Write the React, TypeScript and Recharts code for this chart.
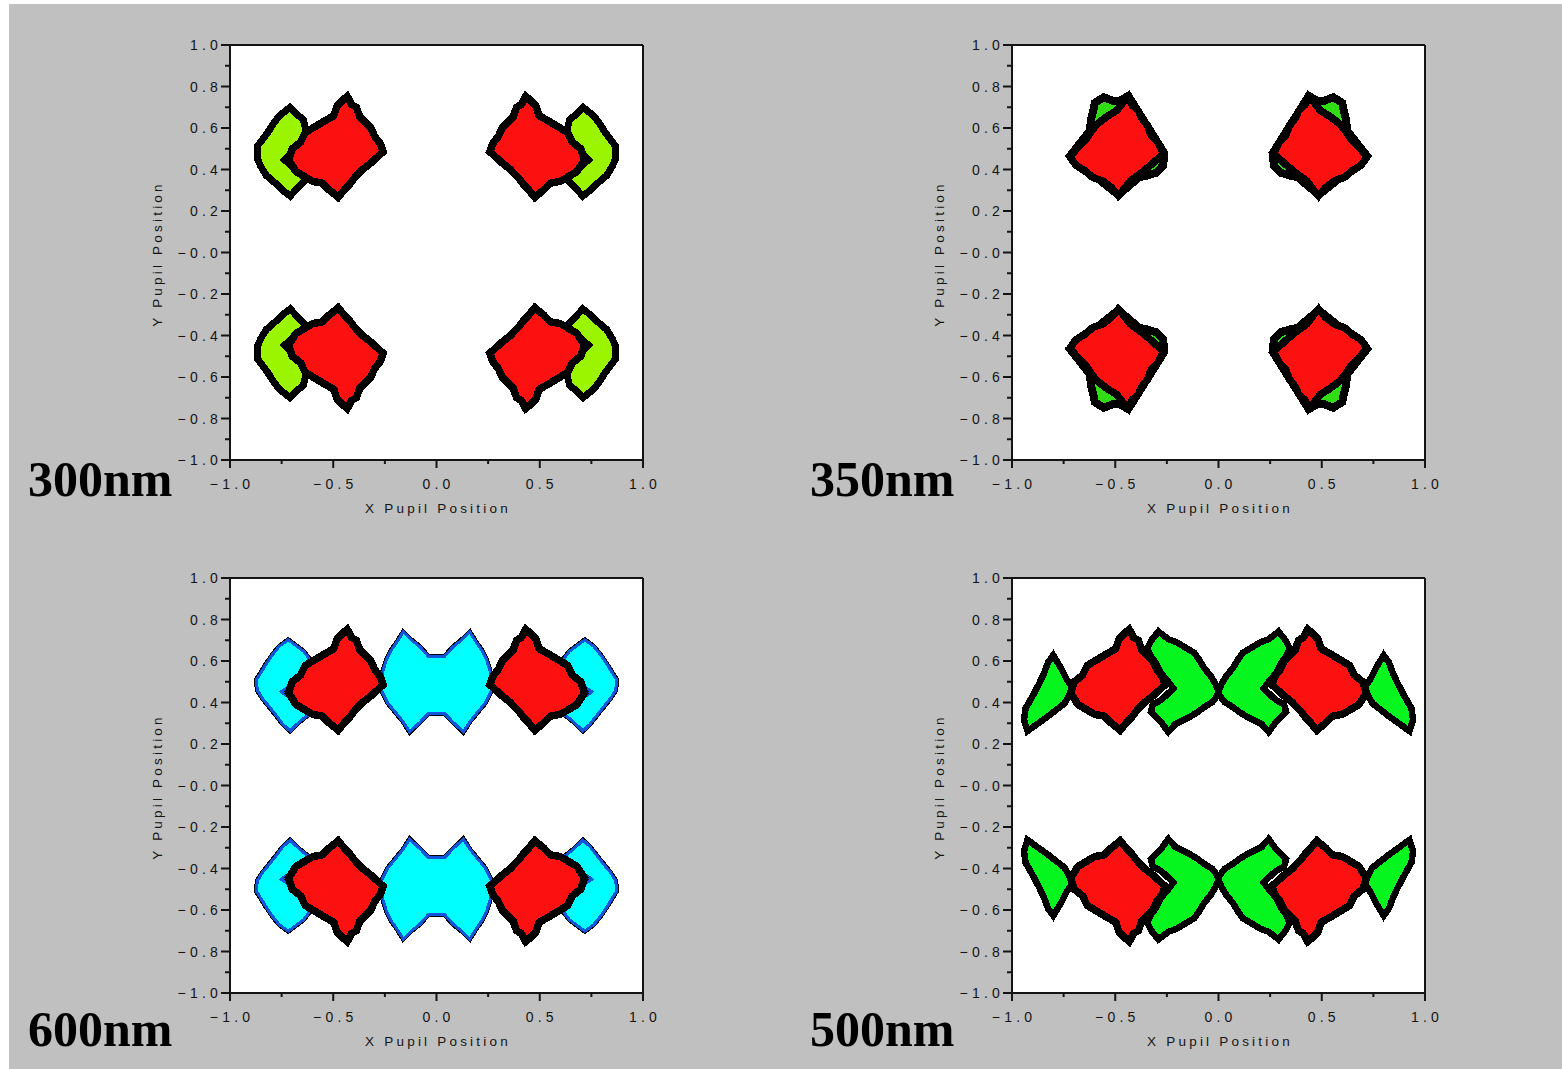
import React from 'react';
import { ScatterChart, Scatter, XAxis, YAxis, CartesianGrid, ReferenceLine } from 'recharts';

type P = [number, number];

// Pupil outlines in pupil coordinates. Quadrant shapes are given for the
// upper-left pole and mirrored to the other three poles.

// Red (design wavelength) pole outline, used by 300/600/500 nm panels
const RED_LOBE: P[] = [
  [-0.432, 0.752], [-0.410, 0.712], [-0.388, 0.700], [-0.372, 0.655], [-0.346, 0.628],
  [-0.318, 0.600], [-0.300, 0.560], [-0.272, 0.525], [-0.258, 0.486], [-0.316, 0.433],
  [-0.356, 0.401], [-0.397, 0.360], [-0.421, 0.328], [-0.445, 0.304], [-0.476, 0.266],
  [-0.520, 0.302], [-0.552, 0.334], [-0.600, 0.343], [-0.641, 0.367], [-0.681, 0.391],
  [-0.717, 0.447], [-0.699, 0.499], [-0.659, 0.531], [-0.635, 0.579], [-0.594, 0.603],
  [-0.538, 0.636], [-0.497, 0.660], [-0.481, 0.708], [-0.457, 0.732],
];

// Red pole outline in the 350 nm panel
const RED_LOBE_350: P[] = [
  [-0.437, 0.750], [-0.420, 0.713], [-0.388, 0.683], [-0.370, 0.645], [-0.344, 0.612],
  [-0.326, 0.565], [-0.293, 0.530], [-0.266, 0.477], [-0.330, 0.420], [-0.378, 0.380],
  [-0.427, 0.345], [-0.451, 0.313], [-0.485, 0.273], [-0.519, 0.313], [-0.560, 0.345],
  [-0.608, 0.361], [-0.648, 0.394], [-0.690, 0.420], [-0.720, 0.462], [-0.675, 0.513],
  [-0.642, 0.546], [-0.610, 0.594], [-0.578, 0.627], [-0.536, 0.658], [-0.495, 0.683],
  [-0.463, 0.722],
];

// 300 nm: crescent on the outer side of each pole
const GREEN_300_CRESCENT: P[] = [
  [-0.709, 0.700], [-0.669, 0.660], [-0.645, 0.642], [-0.635, 0.602], [-0.608, 0.582],
  [-0.650, 0.520], [-0.690, 0.488], [-0.736, 0.446], [-0.685, 0.404], [-0.645, 0.372],
  [-0.625, 0.356], [-0.661, 0.322], [-0.709, 0.272], [-0.752, 0.306], [-0.785, 0.338],
  [-0.825, 0.372], [-0.850, 0.413], [-0.868, 0.454], [-0.868, 0.512], [-0.842, 0.545],
  [-0.818, 0.577], [-0.792, 0.618], [-0.760, 0.660],
];

// 350 nm: rim slightly larger than the red pole
const GREEN_350_RIM: P[] = [
  [-0.437, 0.755], [-0.262, 0.478], [-0.268, 0.420], [-0.300, 0.385], [-0.340, 0.372],
  [-0.385, 0.362], [-0.485, 0.277], [-0.719, 0.465], [-0.671, 0.526], [-0.625, 0.585],
  [-0.615, 0.650], [-0.598, 0.722], [-0.555, 0.748], [-0.505, 0.728], [-0.480, 0.730],
];

// 600 nm: outer crescent per pole
const CYAN_600_CRESCENT: P[] = [
  [-0.718, 0.702], [-0.677, 0.672], [-0.645, 0.648], [-0.618, 0.613], [-0.650, 0.524],
  [-0.752, 0.452], [-0.665, 0.388], [-0.615, 0.345], [-0.665, 0.306], [-0.709, 0.263],
  [-0.745, 0.297], [-0.770, 0.330], [-0.802, 0.370], [-0.843, 0.420], [-0.868, 0.460],
  [-0.872, 0.510], [-0.851, 0.543], [-0.826, 0.584], [-0.793, 0.632], [-0.760, 0.672],
];

// 600 nm: central bow-tie of the upper row
const CYAN_600_BOWTIE: P[] = [
  [-0.276, 0.484], [-0.268, 0.517], [-0.260, 0.549], [-0.243, 0.605], [-0.219, 0.653],
  [-0.195, 0.686], [-0.161, 0.740], [-0.120, 0.700], [-0.080, 0.668], [-0.040, 0.623],
  [0.040, 0.623], [0.080, 0.668], [0.120, 0.700], [0.161, 0.740], [0.195, 0.686],
  [0.219, 0.653], [0.243, 0.605], [0.260, 0.549], [0.268, 0.517], [0.276, 0.484],
  [0.260, 0.444], [0.235, 0.396], [0.203, 0.358], [0.163, 0.309], [0.130, 0.258],
  [0.080, 0.305], [0.040, 0.346], [-0.040, 0.346], [-0.080, 0.305], [-0.130, 0.258],
  [-0.163, 0.309], [-0.203, 0.358], [-0.235, 0.396], [-0.260, 0.444],
];

// 500 nm: outer wing per pole
const GREEN_500_WING: P[] = [
  [-0.800, 0.628], [-0.765, 0.570], [-0.740, 0.520], [-0.706, 0.468], [-0.745, 0.396],
  [-0.830, 0.330], [-0.889, 0.288], [-0.925, 0.262], [-0.942, 0.316], [-0.934, 0.372],
  [-0.902, 0.428], [-0.868, 0.492], [-0.844, 0.543], [-0.826, 0.592],
];

// 500 nm: inner chevron per pole
const GREEN_500_CHEVRON: P[] = [
  [-0.291, 0.742], [-0.243, 0.705], [-0.202, 0.690], [-0.160, 0.665], [-0.118, 0.640],
  [-0.094, 0.607], [-0.070, 0.567], [-0.037, 0.526], [-0.013, 0.486], [0.003, 0.444],
  [-0.030, 0.402], [-0.072, 0.376], [-0.104, 0.352], [-0.144, 0.328], [-0.176, 0.312],
  [-0.209, 0.296], [-0.243, 0.258], [-0.278, 0.306], [-0.302, 0.330], [-0.327, 0.356],
  [-0.318, 0.390], [-0.275, 0.414], [-0.235, 0.452], [-0.219, 0.468], [-0.243, 0.500],
  [-0.278, 0.541], [-0.302, 0.589], [-0.327, 0.621], [-0.344, 0.661], [-0.327, 0.697],
];

const X_TICKS = [-1, -0.75, -0.5, -0.25, 0, 0.25, 0.5, 0.75, 1];
const X_MAJOR = [-1, -0.5, 0, 0.5, 1];
const X_LABELS = ['\u22121.0', '\u22120.5', '0.0', '0.5', '1.0'];
const Y_TICKS = [-1, -0.9, -0.8, -0.7, -0.6, -0.5, -0.4, -0.3, -0.2, -0.1, 0, 0.1, 0.2, 0.3, 0.4, 0.5, 0.6, 0.7, 0.8, 0.9, 1];
const Y_MAJOR = [1, 0.8, 0.6, 0.4, 0.2, 0, -0.2, -0.4, -0.6, -0.8, -1];
const Y_LABELS = ['1.0', '0.8', '0.6', '0.4', '0.2', '\u22120.0', '\u22120.2', '\u22120.4', '\u22120.6', '\u22120.8', '\u22121.0'];

const WAVELENGTHS = ['300nm', '350nm', '600nm', '500nm'];
const X_TITLE = 'X Pupil Position';
const Y_TITLE = 'Y Pupil Position';

type Pt = { x: number; y: number };
type Style = { fill: string; stroke: string; strokeWidth: number; underStroke?: string; underWidth?: number };

const RED: Style = { fill: '#fd1010', stroke: '#000', strokeWidth: 7.5 };
const LIME: Style = { fill: '#9cf500', stroke: '#000', strokeWidth: 7 };
const GREEN: Style = { fill: '#30dc14', stroke: '#000', strokeWidth: 8 };
const CYAN: Style = { fill: '#00ffff', stroke: '#1256dc', strokeWidth: 3, underStroke: '#000', underWidth: 5 };
const GREEN500: Style = { fill: '#05f51e', stroke: '#000', strokeWidth: 6.5 };

const closed = (poly: P[], sx: number, sy: number): Pt[] => {
  const pts = poly.map(([x, y]) => ({ x: x * sx, y: y * sy }));
  return [...pts, pts[0], pts[1]];
};
const fourPoles = (poly: P[]) => [closed(poly, 1, 1), closed(poly, -1, 1), closed(poly, 1, -1), closed(poly, -1, -1)];
const twoRows = (poly: P[]) => [closed(poly, 1, 1), closed(poly, 1, -1)];

type Layer = { polys: Pt[][]; style: Style };

const PANELS: { left: number; top: number; layers: Layer[] }[] = [
  {
    left: 130, top: 30,
    layers: [{ polys: fourPoles(GREEN_300_CRESCENT), style: LIME }, { polys: fourPoles(RED_LOBE), style: RED }],
  },
  {
    left: 912, top: 30,
    layers: [{ polys: fourPoles(GREEN_350_RIM), style: GREEN }, { polys: fourPoles(RED_LOBE_350), style: RED }],
  },
  {
    left: 130, top: 563,
    layers: [
      { polys: fourPoles(CYAN_600_CRESCENT), style: CYAN },
      { polys: twoRows(CYAN_600_BOWTIE), style: CYAN },
      { polys: fourPoles(RED_LOBE), style: RED },
    ],
  },
  {
    left: 912, top: 563,
    layers: [
      { polys: fourPoles(GREEN_500_WING), style: GREEN500 },
      { polys: fourPoles(GREEN_500_CHEVRON), style: GREEN500 },
      { polys: fourPoles(RED_LOBE), style: RED },
    ],
  },
];

const TICK_FONT = "'Liberation Sans', Arial, sans-serif";
const INK = '#141414';

const findMajor = (list: number[], v: number) => list.findIndex((m) => Math.abs(m - v) < 1e-6);

const XTick = (props: any) => {
  const { x, y, payload } = props;
  const idx = findMajor(X_MAJOR, payload.value);
  const major = idx >= 0;
  return (
    <g>
      <line x1={x} x2={x} y1={y} y2={y + (major ? 8 : 4)} stroke={INK} strokeWidth={2} />
      {major && (
        <text x={x + 2} y={y + 29} textAnchor="middle" fontFamily={TICK_FONT} fontSize={14} letterSpacing={4.2} fill={INK}>
          {X_LABELS[idx]}
        </text>
      )}
    </g>
  );
};

const YTick = (props: any) => {
  const { x, y, payload } = props;
  const idx = findMajor(Y_MAJOR, payload.value);
  const major = idx >= 0;
  return (
    <g>
      <line x1={x} x2={x - (major ? 9 : 5)} y1={y} y2={y} stroke={INK} strokeWidth={2} />
      {major && (
        <text x={x - 8} y={y + 5} textAnchor="end" fontFamily={TICK_FONT} fontSize={14} letterSpacing={4.2} fill={INK}>
          {Y_LABELS[idx]}
        </text>
      )}
    </g>
  );
};

const noMarker = () => null;

const CHART_W = 530;
const CHART_H = 490;

function outlineScatter(key: string, pts: Pt[], fill: string, stroke: string, width: number) {
  return (
    <Scatter
      key={key}
      data={pts}
      fill={fill}
      shape={noMarker}
      legendType="none"
      isAnimationActive={false}
      line={{
        fill,
        stroke,
        strokeWidth: width,
        strokeLinejoin: 'miter',
        strokeMiterlimit: 2.5,
        shapeRendering: 'crispEdges',
      }}
    />
  );
}

function Panel({ left, top, layers }: { left: number; top: number; layers: Layer[] }) {
  const series: React.ReactNode[] = [];
  layers.forEach((layer, li) => {
    layer.polys.forEach((pts, pi) => {
      const s = layer.style;
      if (s.underStroke) series.push(outlineScatter(`u${li}-${pi}`, pts, s.fill, s.underStroke, s.underWidth || 5));
      series.push(outlineScatter(`s${li}-${pi}`, pts, s.fill, s.stroke, s.strokeWidth));
    });
  });
  return (
    <div style={{ position: 'absolute', left, top, width: CHART_W, height: CHART_H }}>
      <ScatterChart width={CHART_W} height={CHART_H} margin={{ top: 15, right: 17, bottom: 0, left: 40 }}>
        <CartesianGrid horizontal={false} vertical={false} fill="#ffffff" />
        <XAxis
          type="number" dataKey="x" domain={[-1, 1]} ticks={X_TICKS} interval={0}
          allowDataOverflow tick={<XTick />} tickLine={false} tickSize={0} tickMargin={0}
          height={60} axisLine={{ stroke: INK, strokeWidth: 2 }}
        />
        <YAxis
          type="number" dataKey="y" domain={[-1, 1]} ticks={Y_TICKS} interval={0}
          allowDataOverflow tick={<YTick />} tickLine={false} tickSize={0} tickMargin={0}
          width={60} axisLine={{ stroke: INK, strokeWidth: 2 }}
        />
        <ReferenceLine y={1} stroke={INK} strokeWidth={2} ifOverflow="visible" />
        <ReferenceLine x={1} stroke={INK} strokeWidth={2} ifOverflow="visible" />
        {series}
      </ScatterChart>
    </div>
  );
}

const TITLE_FONT = "'Liberation Sans', Arial, sans-serif";

export default function App() {
  const offsets = [
    [0, 0],
    [782, 0],
    [0, 533],
    [782, 533],
  ];
  const bigLabelPos = [
    [28, 496],
    [810, 496],
    [28, 1046],
    [810, 1046],
  ];
  return (
    <div>
      <svg width={1562} height={1069} style={{ position: 'absolute', left: 0, top: 0 }}>
        <rect x={9} y={4} width={1553} height={1065} fill="#c0c0c0" />
        {offsets.map(([dx, dy], i) => (
          <g key={i}>
            <text
              x={157 + dx} y={254 + dy}
              transform={`rotate(-90 ${157 + dx} ${254 + dy})`}
              textAnchor="middle" dominantBaseline="central"
              fontFamily={TITLE_FONT} fontSize={13.5} letterSpacing={3.2} fill={INK}
            >
              {Y_TITLE}
            </text>
            <text
              x={438 + dx} y={513 + dy} textAnchor="middle"
              fontFamily={TITLE_FONT} fontSize={13.5} letterSpacing={3.2} fill={INK}
            >
              {X_TITLE}
            </text>
            <text
              x={bigLabelPos[i][0]} y={bigLabelPos[i][1]}
              fontFamily="'Liberation Serif', 'Times New Roman', serif" fontWeight="bold" fontSize={50} fill="#000"
            >
              {WAVELENGTHS[i]}
            </text>
          </g>
        ))}
      </svg>
      {PANELS.map((p, i) => (
        <Panel key={i} left={p.left} top={p.top} layers={p.layers} />
      ))}
    </div>
  );
}
